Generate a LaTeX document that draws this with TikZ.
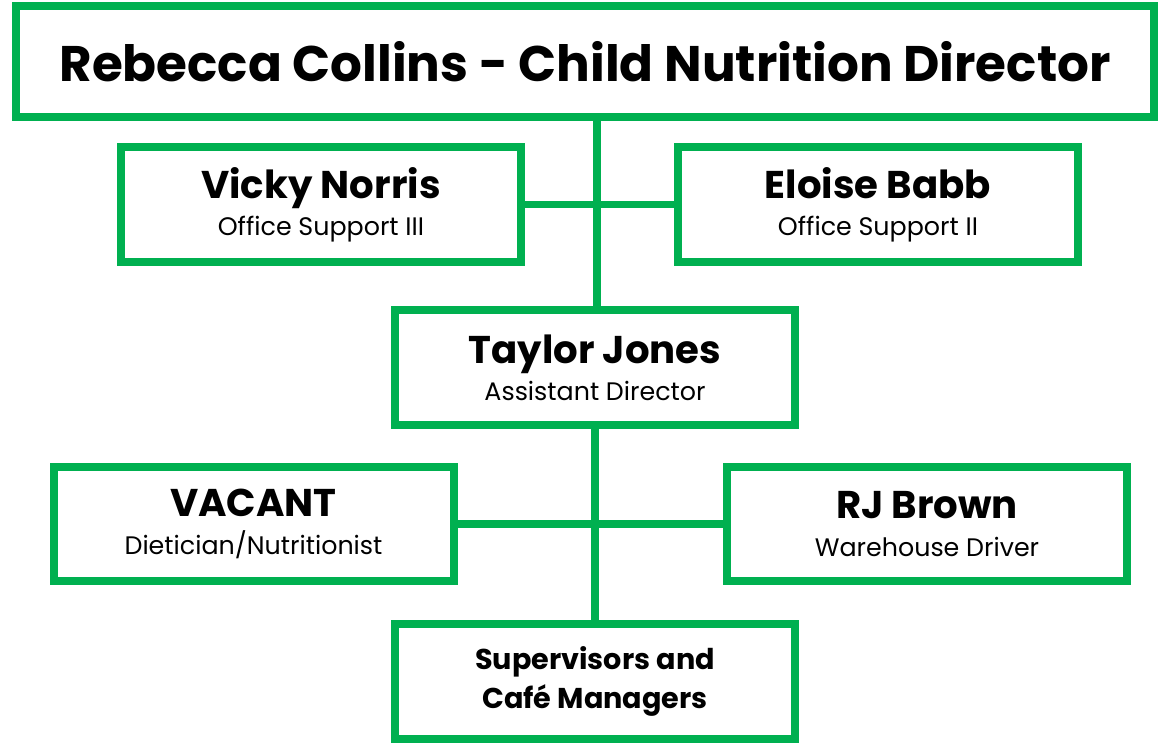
\documentclass[tikz,border=0pt]{standalone}
\usepackage{fontspec}
\setmainfont{Poppins}
\definecolor{orggreen}{RGB}{0,176,80}
\tikzset{
  staffbox/.style={draw=orggreen, line width=6pt, minimum width=300pt, minimum height=86pt, inner sep=0pt, align=center, font=\fontsize{19}{28}\selectfont},
  headbox/.style={staffbox, minimum width=853pt, minimum height=83pt, font=\fontsize{37.5}{44}\selectfont\bfseries},
  link/.style={orggreen, line width=5.5pt}
}
\newcommand{\staffname}[2]{{\fontsize{29}{30}\selectfont\bfseries #1}\\#2}
\begin{document}
\begin{tikzpicture}[x=0.75pt,y=-0.75pt]
    \useasboundingbox (0,0) rectangle (1159,742);
    % boxes
    \node[headbox] (director) at (585,61.5) {Rebecca Collins - Child Nutrition Director};
    \node[staffbox] (vicky) at (321,204.5) {\staffname{Vicky Norris}{Office Support III}};
    \node[staffbox] (eloise) at (878,204.5) {\staffname{Eloise Babb}{Office Support II}};
    \node[staffbox] (taylor) at (595,367.5) {\staffname{Taylor Jones}{Assistant Director}};
    \node[staffbox] (vacant) at (253.5,524) {\staffname{VACANT}{Dietician/Nutritionist}};
    \node[staffbox] (rj) at (927,524) {\staffname{RJ Brown}{Warehouse Driver}};
    \node[staffbox, font=\fontsize{21.5}{29}\selectfont\bfseries] (supervisors) at (595,681.5) {Supervisors and\\ Café Managers};
    % lines
    \draw[link] (taylor.north -| 597,0) -- (director.south -| 597,0);
    \draw[link] (vicky.east) -- (eloise.west);
    \draw[link] (taylor.south) -- (supervisors.north);
    \draw[link] (vacant.east) -- (rj.west);
\end{tikzpicture}
\end{document}
